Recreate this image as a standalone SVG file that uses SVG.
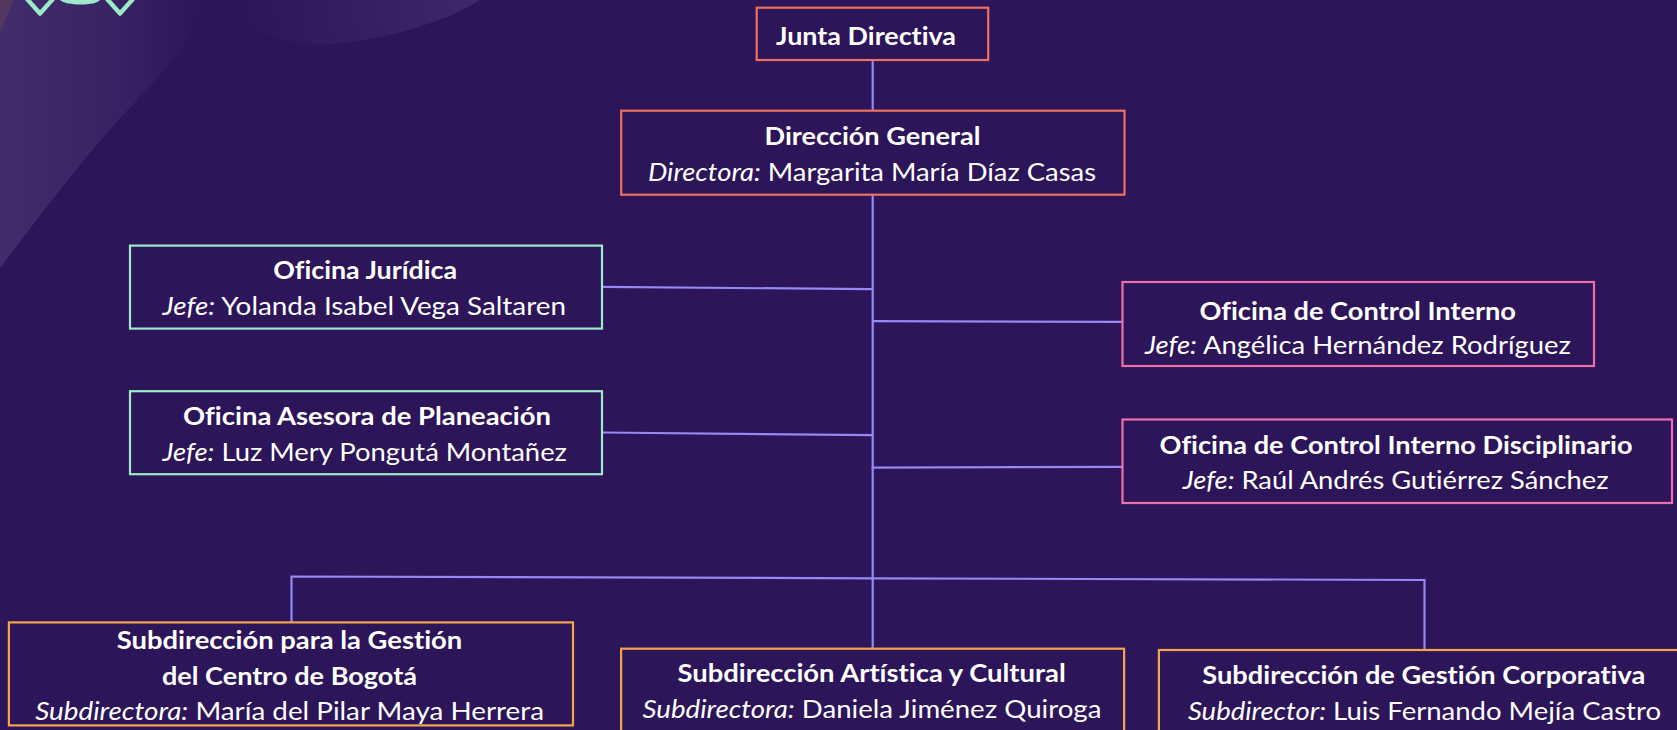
<svg xmlns="http://www.w3.org/2000/svg" width="1677" height="730" viewBox="0 0 1677 730">
<style>
.box{fill:#2c1558;stroke-width:2.2}
.red{stroke:#f0705f}.mint{stroke:#9de9c9}.pink{stroke:#ee70aa}.orange{stroke:#f6a44c}
text{font-family:Lato,"Open Sans",sans-serif;font-size:24.6px;fill:#fff;font-variant-ligatures:none}
.b{font-weight:700;font-size:24.6px}
.i{font-style:italic}
.c{fill:none;stroke:#9489f6;stroke-width:2.2}
</style>
<defs>
<linearGradient id="g1" gradientUnits="userSpaceOnUse" x1="0" y1="0" x2="205" y2="0"><stop offset="0" stop-color="#412c6c"/><stop offset="0.55" stop-color="#382364"/><stop offset="1" stop-color="#2c1558"/></linearGradient>
<linearGradient id="g2" gradientUnits="userSpaceOnUse" x1="240" y1="40" x2="470" y2="0"><stop offset="0" stop-color="#2c1558"/><stop offset="1" stop-color="#3f2869"/></linearGradient>
</defs>
<rect width="1677" height="730" fill="#2c1558"/>
<g id="background">
<path d="M0 268C40 215 75 170 105 135C140 95 170 70 190 35C198 22 204 10 208 0L0 0Z" fill="url(#g1)"/>
<path d="M195 0C235 22 270 42 320 45C375 42 440 25 480 0Z" fill="url(#g2)"/>
<path d="M0 0H14L0 32Z" fill="#543760"/>
<path d="M23.5 -5L40 13.5L56.5 -5M103.5 -5L120 13.5L136.5 -5" fill="none" stroke="#9de9c9" stroke-width="4.4" stroke-linejoin="round"/>
<path d="M60 0H100C96 6 66 6 60 0Z" fill="#9de9c9"/>
</g>
<g id="connectors">
<path class="c" d="M872.7 60V110"/>
<path class="c" d="M872.7 194V648"/>
<path class="c" d="M602 286.8L872.7 289.2"/>
<path class="c" d="M602 432.5L873 435.2"/>
<path class="c" d="M872.7 321.2L1122 321.8"/>
<path class="c" d="M871.5 467.6L1122 466.8"/>
<path class="c" d="M291.5 622V576.5L873 578.3L1424.5 580V649"/>
</g>
<g id="junta-directiva"><rect class="box red" x="756.7" y="7.7" width="231.5" height="52.3"/>
<text class="b" x="776" y="44.6" textLength="180" lengthAdjust="spacingAndGlyphs">Junta Directiva</text></g>
<g id="direccion-general"><rect class="box red" x="621.2" y="110.7" width="503.3" height="84"/>
<text class="b" x="764.5" y="145" textLength="216" lengthAdjust="spacingAndGlyphs">Dirección General</text>
<text x="648" y="181" textLength="448" lengthAdjust="spacingAndGlyphs"><tspan class="i">Directora:</tspan> Margarita María Díaz Casas</text></g>
<g id="oficina-juridica"><rect class="box mint" x="130" y="245.6" width="472" height="83"/>
<text class="b" x="273.3" y="279" textLength="183.7" lengthAdjust="spacingAndGlyphs">Oficina Jurídica</text>
<text x="162.6" y="315" textLength="403.4" lengthAdjust="spacingAndGlyphs"><tspan class="i">Jefe:</tspan> Yolanda Isabel Vega Saltaren</text></g>
<g id="oficina-planeacion"><rect class="box mint" x="130" y="391.2" width="472" height="83"/>
<text class="b" x="183" y="425" textLength="368" lengthAdjust="spacingAndGlyphs">Oficina Asesora de Planeación</text>
<text x="162.6" y="461" textLength="404.4" lengthAdjust="spacingAndGlyphs"><tspan class="i">Jefe:</tspan> Luz Mery Pongutá Montañez</text></g>
<g id="oficina-control-interno"><rect class="box pink" x="1122.5" y="282" width="471.5" height="84"/>
<text class="b" x="1199.4" y="319.5" textLength="316.6" lengthAdjust="spacingAndGlyphs">Oficina de Control Interno</text>
<text x="1145" y="354" textLength="426" lengthAdjust="spacingAndGlyphs"><tspan class="i">Jefe:</tspan> Angélica Hernández Rodríguez</text></g>
<g id="oficina-control-disciplinario"><rect class="box pink" x="1122.5" y="419.5" width="549.5" height="83.5"/>
<text class="b" x="1159.6" y="453.5" textLength="473" lengthAdjust="spacingAndGlyphs">Oficina de Control Interno Disciplinario</text>
<text x="1182.8" y="489" textLength="425.8" lengthAdjust="spacingAndGlyphs"><tspan class="i">Jefe:</tspan> Raúl Andrés Gutiérrez Sánchez</text></g>
<g id="subdireccion-centro"><rect class="box orange" x="8.9" y="622.4" width="564.1" height="103"/>
<text class="b" x="116.7" y="648.5" textLength="345.6" lengthAdjust="spacingAndGlyphs">Subdirección para la Gestión</text>
<text class="b" x="161.9" y="684.8" textLength="255.1" lengthAdjust="spacingAndGlyphs">del Centro de Bogotá</text>
<text x="35.2" y="720" textLength="508.8" lengthAdjust="spacingAndGlyphs"><tspan class="i">Subdirectora:</tspan> María del Pilar Maya Herrera</text></g>
<g id="subdireccion-artistica"><rect class="box orange" x="621.1" y="648.7" width="503" height="100"/>
<text class="b" x="677.6" y="681.5" textLength="388.1" lengthAdjust="spacingAndGlyphs">Subdirección Artística y Cultural</text>
<text x="642.6" y="718" textLength="458.8" lengthAdjust="spacingAndGlyphs"><tspan class="i">Subdirectora:</tspan> Daniela Jiménez Quiroga</text></g>
<g id="subdireccion-corporativa"><rect class="box orange" x="1158.9" y="650" width="540" height="100"/>
<text class="b" x="1202.3" y="684" textLength="443" lengthAdjust="spacingAndGlyphs">Subdirección de Gestión Corporativa</text>
<text x="1187.9" y="720" textLength="473.1" lengthAdjust="spacingAndGlyphs"><tspan class="i">Subdirector:</tspan> Luis Fernando Mejía Castro</text></g>
</svg>
